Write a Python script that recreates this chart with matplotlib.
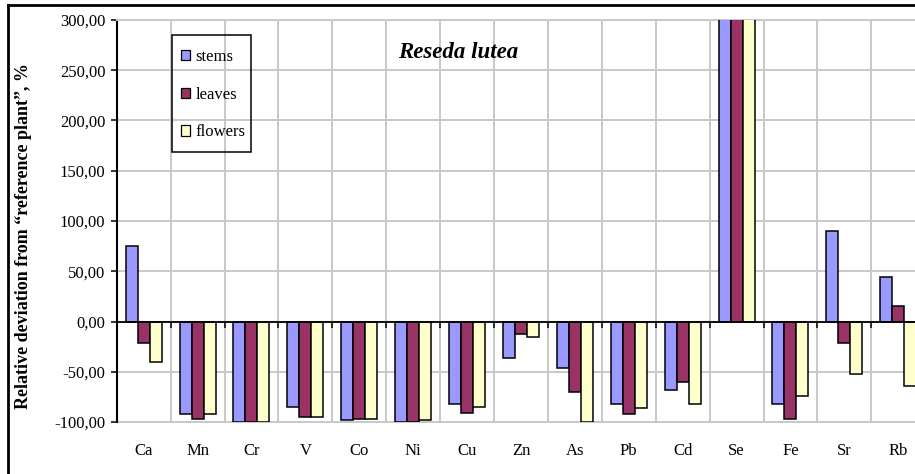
import matplotlib
matplotlib.use("Agg")
import matplotlib.pyplot as plt
import numpy as np
from matplotlib.ticker import FuncFormatter, FixedLocator
from matplotlib.lines import Line2D
from matplotlib.patches import Rectangle

elements = ["Ca", "Mn", "Cr", "V", "Co", "Ni", "Cu", "Zn", "As", "Pb", "Cd", "Se", "Fe", "Sr", "Rb"]
stems   = [75.5, -92, -100, -85, -98.5, -100, -82, -36, -46, -82, -68, 520, -82, 90, 44]
leaves  = [-21.5, -97, -100, -95, -97, -100, -91, -12.5, -70.5, -92, -60, 500, -97, -21.5, 15]
flowers = [-40, -92, -100, -95, -97, -98, -85, -15.5, -100, -86.5, -82, 480, -74.5, -52, -64.5]
series_names = ["stems", "leaves", "flowers"]
series_colors = ["#9999FF", "#993366", "#FFFFCC"]
yticks = [-100, -50, 0, 50, 100, 150, 200, 250, 300]

SERIF = ["Liberation Serif", "DejaVu Serif"]
plt.rcParams["font.family"] = SERIF

W, H = 915, 474
fig = plt.figure(figsize=(W / 100, H / 100), dpi=100)

left_px, top_px, bottom_px = 116.7, 20.0, 422.0
cat_px = 53.9
ax = fig.add_axes([left_px / W, 1 - bottom_px / H,
                   len(elements) * cat_px / W, (bottom_px - top_px) / H])

x = np.arange(len(elements))
bw = 12.0 / cat_px
for i, (vals, name, col) in enumerate(zip([stems, leaves, flowers], series_names, series_colors)):
    ax.bar(x + (i - 1) * bw, vals, width=bw, color=col, edgecolor="black",
           linewidth=1.1, label=name, zorder=3)

ax.set_xlim(-0.5, len(elements) - 0.5)
ax.set_ylim(-100, 300)
ax.set_yticks(yticks)
ax.yaxis.set_major_formatter(FuncFormatter(lambda v, p: f"{v:.2f}".replace(".", ",")))
ax.tick_params(axis="y", direction="out", length=4.2, width=1.1, pad=4, labelsize=12, color="black")

gridc = "#C8C8C8"
ax.yaxis.grid(True, color=gridc, linewidth=1.4, zorder=0)
ax.xaxis.set_minor_locator(FixedLocator(np.arange(0.5, len(elements) - 0.5, 1.0)))
ax.xaxis.grid(True, which="minor", color=gridc, linewidth=1.4, zorder=0)
ax.set_axisbelow(True)

# zero axis line with category tick marks
ax.spines["bottom"].set_position(("data", 0))
ax.spines["bottom"].set_linewidth(1.3)
ax.spines["bottom"].set_zorder(4)
ax.set_xticks(x)
ax.tick_params(axis="x", which="major", length=0, labelbottom=False)
ax.tick_params(axis="x", which="minor", direction="out", length=4.2, width=1.1, color="black")
ax.spines["left"].set_linewidth(1.5)
ax.spines["top"].set_color(gridc)
ax.spines["top"].set_linewidth(1.4)
ax.spines["right"].set_visible(False)

sec = ax.secondary_xaxis(0.0)
sec.set_xticks(x, labels=elements)
sec.tick_params(length=0, pad=15, labelsize=12)
sec.spines["bottom"].set_color(gridc)
sec.spines["bottom"].set_linewidth(1.4)

ax.set_ylabel("Relative deviation from \u201creference plant\u201d, %", fontsize=13,
              fontweight="bold")
ax.yaxis.set_label_coords(-(left_px - 32) / (len(elements) * cat_px), 0.463)
ax.yaxis.label.set_va("bottom")

fig.text(458 / W, 1 - 52 / H, "Reseda lutea", fontsize=16.5, fontweight="bold",
         fontstyle="italic", ha="center", va="center")

leg = ax.legend(loc="upper left", bbox_to_anchor=(171.7 / W, 1 - 40 / H),
                bbox_transform=fig.transFigure, borderaxespad=0, fontsize=12,
                frameon=False,
                labelspacing=1.3, handlelength=0.57, handleheight=0.57,
                handletextpad=0.3, borderpad=0.55)
for p in leg.legend_handles:
    p.set_linewidth(0.9)
# legend frame
fig.add_artist(Rectangle((171.7 / W, 1 - 152 / H), (251 - 171.7) / W, (152 - 35) / H,
                         transform=fig.transFigure, facecolor="none",
                         edgecolor="black", linewidth=1.1, zorder=6))

# outer chart border (cropped on the right and bottom)
fig.add_artist(Line2D([8 / W, 8 / W], [0, 1 - 5 / H], transform=fig.transFigure,
                      color="black", linewidth=2))
fig.add_artist(Line2D([8 / W, 1], [1 - 5 / H, 1 - 5 / H], transform=fig.transFigure,
                      color="black", linewidth=2))

fig.savefig("out.png", dpi=100)
